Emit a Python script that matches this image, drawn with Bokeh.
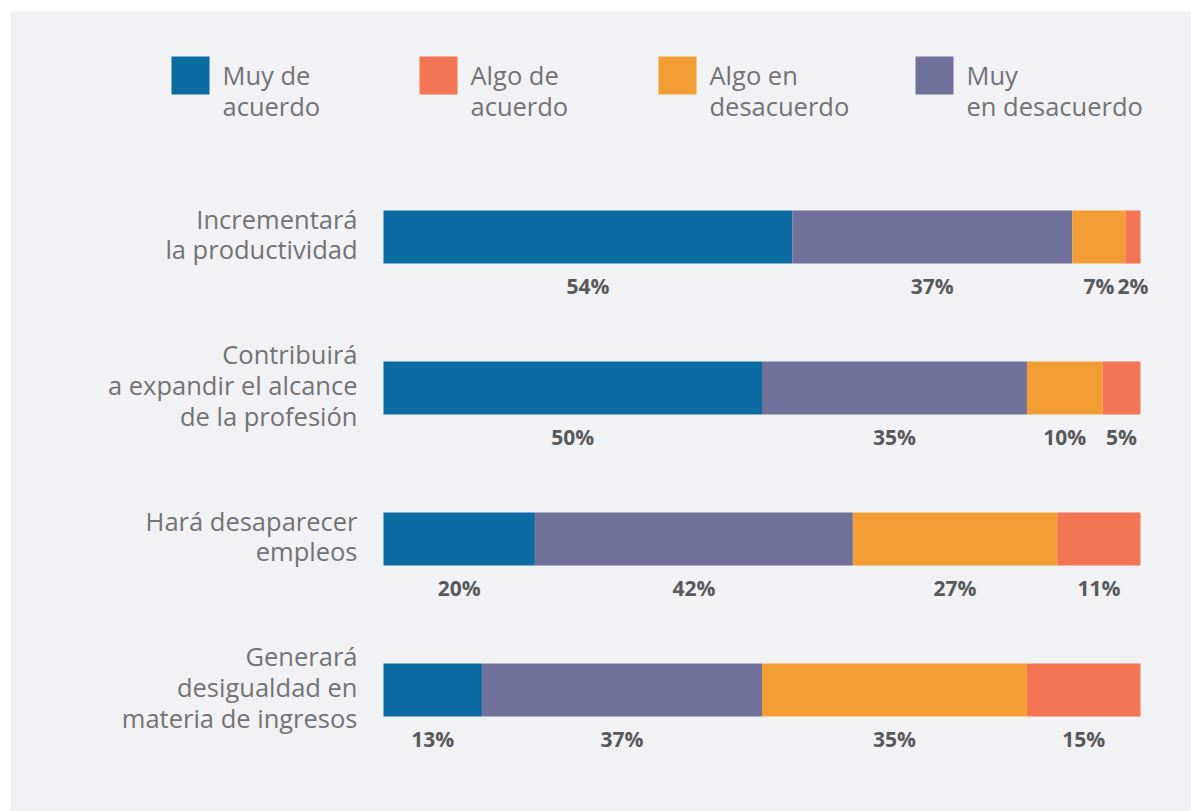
from bokeh.plotting import figure
from bokeh.models import Range1d
from bokeh.core.properties import value
from bokeh.embed import file_html
from bokeh.resources import INLINE

# ---------------- data ----------------
categories = [
    "Incrementará\nla productividad",
    "Contribuirá\na expandir el alcance\nde la profesión",
    "Hará desaparecer\nempleos",
    "Generará\ndesigualdad en\nmateria de ingresos",
]
legend_labels = ["Muy de\nacuerdo", "Algo de\nacuerdo", "Algo en\ndesacuerdo", "Muy\nen desacuerdo"]
legend_colors = ["#0b6aa1", "#f47553", "#f39d35", "#6f719b"]

seg_blue = [54, 50, 20, 13]
seg_purple = [37, 35, 42, 37]
seg_orange = [7, 10, 27, 35]
seg_coral = [2, 5, 11, 15]
segments = [seg_blue, seg_purple, seg_orange, seg_coral]
segment_colors = ["#0b6aa1", "#6f719b", "#f39d35", "#f47553"]

# ---------------- layout helpers ----------------
W, H = 1191, 811
BORDER_L, BORDER_T = 10, 11
PLOT_W, PLOT_H = W - BORDER_L, H - BORDER_T
PX_PER_PCT = 7.57          # pixels per percentage point
ZERO_PX = 383 - BORDER_L   # plot-area x of 0%
ROW_PX = 151               # pixels per category row
FIRST_ROW_PX = 236.5 - BORDER_T

x_start = -ZERO_PX / PX_PER_PCT
x_end = x_start + PLOT_W / PX_PER_PCT
y_top = -FIRST_ROW_PX / ROW_PX
y_bottom = y_top + PLOT_H / ROW_PX


def px_x(px):
    return (px - BORDER_L - ZERO_PX) / PX_PER_PCT


def px_y(py):
    return y_top + (py - BORDER_T) / ROW_PX


p = figure(width=W, height=H, output_backend="svg", toolbar_location=None,
           x_range=Range1d(x_start, x_end), y_range=Range1d(y_bottom, y_top),
           min_border_left=BORDER_L, min_border_top=BORDER_T,
           min_border_right=0, min_border_bottom=0)
p.axis.visible = False
p.grid.visible = False
p.outline_line_color = None
p.background_fill_color = "#f1f2f4"
p.border_fill_color = "#ffffff"

idx = list(range(len(categories)))
light_font = value("Open Sans")

# bars
left = [0] * len(idx)
lab_x, lab_y, lab_t = [], [], []
for seg, col in zip(segments, segment_colors):
    right = [l + v for l, v in zip(left, seg)]
    p.hbar(y=idx, left=left, right=right, height=53 / ROW_PX, color=col, line_color=None)
    for i, (l, r, v) in enumerate(zip(left, right, seg)):
        lab_x.append((l + r) / 2)
        lab_y.append(i)
        lab_t.append(f"{v}%")
    left = right

p.text(x=lab_x, y=lab_y, text=lab_t, y_offset=49, text_align="center", text_baseline="middle",
       text_font=value("Open Sans"), text_font_style="bold", text_font_size="21px",
       text_color="#58595b")

# category labels
p.text(x=[0] * len(idx), y=idx, text=categories, x_offset=-26, y_offset=-3,
       text_align="right", text_baseline="middle", text_line_height=0.9,
       text_font=light_font, text_font_size="25.5px", text_color="#727376")

# legend
leg_px = [190, 438, 677, 934]
leg_x = [px_x(v) for v in leg_px]
leg_y = [px_y(75)] * len(leg_px)
p.rect(x=leg_x, y=leg_y, width=38, height=38, width_units="screen", height_units="screen",
       color=legend_colors, line_color=None)
p.text(x=leg_x, y=leg_y, text=legend_labels, x_offset=32, y_offset=15,
       text_align="left", text_baseline="middle", text_line_height=0.9,
       text_font=light_font, text_font_size="25.5px", text_color="#727376")

open("out.html", "w").write(file_html(p, INLINE))
